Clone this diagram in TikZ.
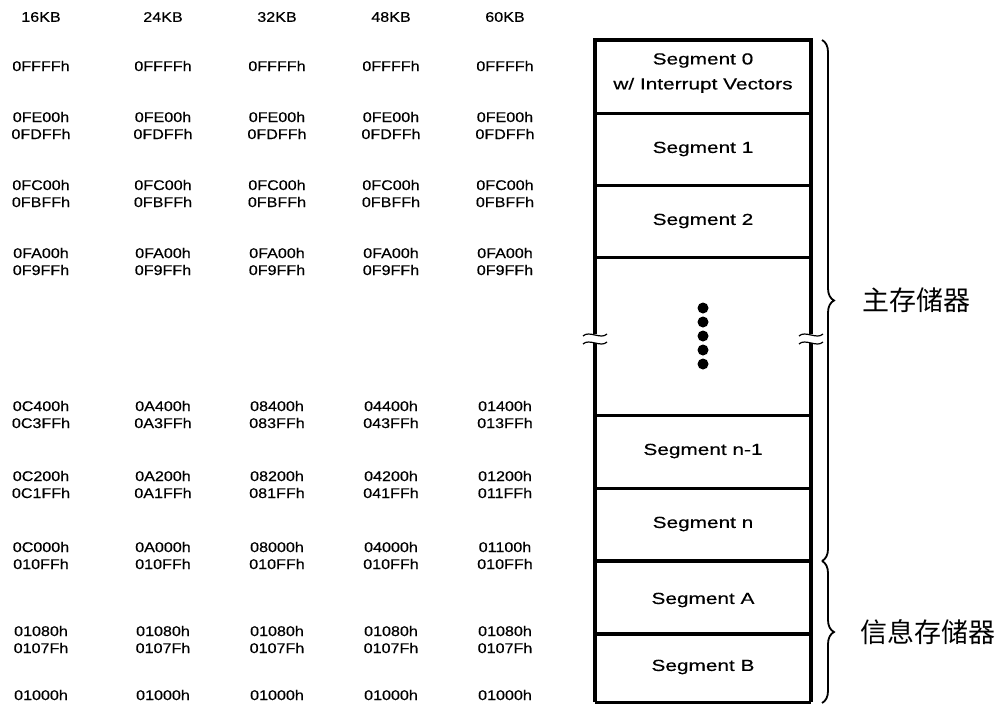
\documentclass[tikz,border=0pt]{standalone}
\usepackage{fontspec}
\setmainfont{Liberation Sans}
\newfontfamily\addrfont{Liberation Sans}[FakeStretch=1.15, FakeBold=0.4]
\newfontfamily\segfont{Liberation Sans}[FakeStretch=1.3, FakeBold=0.4]
\newfontfamily\cjk{Noto Sans CJK SC}
\usetikzlibrary{decorations.pathreplacing}

% one row of addresses, one node per flash size
\newcommand{\addrrow}[7]{%
  \node[addr] (#1-a) at (41,#2) {#3};
  \node[addr] (#1-b) at (163,#2) {#4};
  \node[addr] (#1-c) at (277,#2) {#5};
  \node[addr] (#1-d) at (391,#2) {#6};
  \node[addr] (#1-e) at (505,#2) {#7};
}

\tikzset{
  addr/.style={font=\addrfont\fontsize{14}{14}\selectfont, inner sep=0pt},
  seglabel/.style={font=\segfont\fontsize{16}{25}\selectfont, inner sep=0pt, align=center},
  memlabel/.style={font=\cjk\fontsize{27}{27}\selectfont, inner sep=0pt, anchor=west},
  border/.style={line width=4pt},
  divider/.style={line width=3pt},
  bracket/.style={line width=1.8pt, decorate, decoration={brace, amplitude=12pt, aspect=0.5}},
}

\begin{document}
\begin{tikzpicture}[x=1pt, y=-1pt]
  \useasboundingbox (0,0) rectangle (1003,704);
  % Parameters for the memory column
  \def\left{595}  % left edge of the column
  \def\right{811} % right edge of the column
  \def\mid{703}   % centre of the column
  \def\cut{338}   % height of the break

  % Flash sizes
  \node[addr] (size-a) at (41,17) {16KB};
  \node[addr] (size-b) at (163,17) {24KB};
  \node[addr] (size-c) at (277,17) {32KB};
  \node[addr] (size-d) at (391,17) {48KB};
  \node[addr] (size-e) at (505,17) {60KB};

  % Segment start and end addresses
  \addrrow{s0hi}{66}{0FFFFh}{0FFFFh}{0FFFFh}{0FFFFh}{0FFFFh}
  \addrrow{s0lo}{117}{0FE00h}{0FE00h}{0FE00h}{0FE00h}{0FE00h}
  \addrrow{s1hi}{134}{0FDFFh}{0FDFFh}{0FDFFh}{0FDFFh}{0FDFFh}
  \addrrow{s1lo}{185}{0FC00h}{0FC00h}{0FC00h}{0FC00h}{0FC00h}
  \addrrow{s2hi}{202}{0FBFFh}{0FBFFh}{0FBFFh}{0FBFFh}{0FBFFh}
  \addrrow{s2lo}{253}{0FA00h}{0FA00h}{0FA00h}{0FA00h}{0FA00h}
  \addrrow{s3hi}{270}{0F9FFh}{0F9FFh}{0F9FFh}{0F9FFh}{0F9FFh}
  \addrrow{smlo}{406}{0C400h}{0A400h}{08400h}{04400h}{01400h}
  \addrrow{smhi}{423}{0C3FFh}{0A3FFh}{083FFh}{043FFh}{013FFh}
  \addrrow{snlo}{476}{0C200h}{0A200h}{08200h}{04200h}{01200h}
  \addrrow{snhi}{493}{0C1FFh}{0A1FFh}{081FFh}{041FFh}{011FFh}
  \addrrow{mainlo}{547}{0C000h}{0A000h}{08000h}{04000h}{01100h}
  \addrrow{sahi}{564}{010FFh}{010FFh}{010FFh}{010FFh}{010FFh}
  \addrrow{salo}{631}{01080h}{01080h}{01080h}{01080h}{01080h}
  \addrrow{sbhi}{648}{0107Fh}{0107Fh}{0107Fh}{0107Fh}{0107Fh}
  \addrrow{sblo}{695}{01000h}{01000h}{01000h}{01000h}{01000h}

  % Memory column with segment dividers
  \draw[border] (\left,702) -- (\left,40) -- (\right,40) -- (\right,702);
  \draw[divider] (\left,702) -- (\right,702);
  \foreach \y in {113,185,257,415,488} \draw[divider] (\left,\y) -- (\right,\y);
  \foreach \y in {561,634} \draw[border] (\left,\y) -- (\right,\y);

  % Break marks on both sides
  \fill[white] (\left-3,\cut-4) rectangle (\left+3,\cut+5);
  \fill[white] (\right-3,\cut-4) rectangle (\right+3,\cut+5);
  \foreach \x in {\left,\right} {
    \draw[line width=1.2pt] (\x-12,\cut-2) .. controls (\x-6,\cut-8) and (\x+6,\cut+2) .. (\x+12,\cut-4);
    \draw[line width=1.2pt] (\x-12,\cut+6) .. controls (\x-6,\cut) and (\x+6,\cut+10) .. (\x+12,\cut+4);
  }

  % Dots for the skipped segments
  \foreach \k in {0,...,4} \fill (\mid,308+14*\k) circle (5.5);

  % Segment names
  \node[seglabel] (seg0) at (\mid,73) {Segment 0\\w/ Interrupt Vectors};
  \node[seglabel] (seg1) at (\mid,149) {Segment 1};
  \node[seglabel] (seg2) at (\mid,221) {Segment 2};
  \node[seglabel] (segm) at (\mid,451) {Segment n-1};
  \node[seglabel] (segn) at (\mid,524) {Segment n};
  \node[seglabel] (sega) at (\mid,600) {Segment A};
  \node[seglabel] (segb) at (\mid,667) {Segment B};

  % Braces for main and information memory
  \draw[bracket] (822,40) -- (822,561);
  \draw[bracket] (822,561) -- (822,703);
  \node[memlabel] (main) at (862,300) {主存储器};
  \node[memlabel] (info) at (860,632) {信息存储器};
\end{tikzpicture}
\end{document}
